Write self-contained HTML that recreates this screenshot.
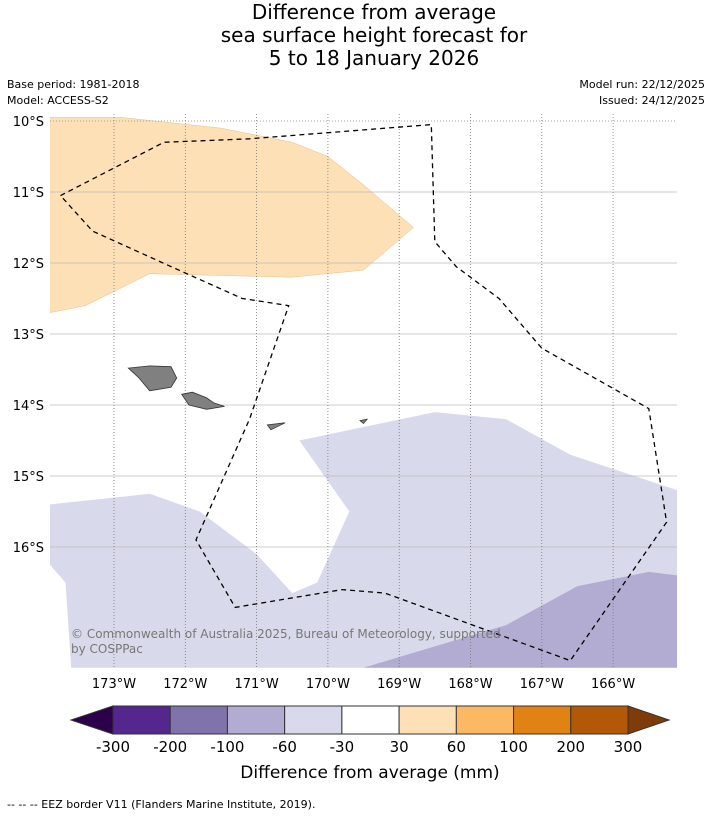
<!DOCTYPE html>
<html><head><meta charset="utf-8">
<style>
body{margin:0;background:#fff;font-family:"DejaVu Sans","Liberation Sans",sans-serif;}
svg{display:block}
</style></head>
<body>
<svg width="713" height="816" viewBox="0 0 713 816" id="chart" font-family="DejaVu Sans, Liberation Sans, sans-serif">
<text x="374" y="19" font-size="20" text-anchor="middle">Difference from average</text>
<text x="374" y="42" font-size="20" text-anchor="middle">sea surface height forecast for</text>
<text x="374" y="65" font-size="20" text-anchor="middle">5 to 18 January 2026</text>
<text x="7" y="88" font-size="11">Base period: 1981-2018</text>
<text x="7" y="104" font-size="11">Model: ACCESS-S2</text>
<text x="705" y="88" font-size="11" text-anchor="end">Model run: 22/12/2025</text>
<text x="705" y="104" font-size="11" text-anchor="end">Issued: 24/12/2025</text>
<g id="map"></g>
<g id="cbar"></g>
<text x="370" y="778" font-size="17" text-anchor="middle">Difference from average (mm)</text>
<text x="7" y="808" font-size="11">--  --  -- EEZ border V11 (Flanders Marine Institute, 2019).</text>
</svg>
<script>
const lonTicks=[-173,-172,-171,-170,-169,-168,-167,-166];
const latTicks=[-10,-11,-12,-13,-14,-15,-16];
const levels=[-300,-200,-100,-60,-30,30,60,100,200,300];
const colors=["#54278f","#8073ac","#b2abd2","#d8daeb","#ffffff","#fee0b6","#fdb863","#e08214","#b35806"];
// shaded regions (lon,lat)
const orangeZone=[[-173.9,-9.95],[-172.9,-9.95],[-171.5,-10.1],[-170.5,-10.3],[-170,-10.5],[-169.5,-10.9],[-168.8,-11.5],[-169.5,-12.1],[-170.5,-12.2],[-172.5,-12.15],[-173.4,-12.6],[-173.9,-12.7]];
const lightPurple=[[-173.9,-15.4],[-172.5,-15.25],[-171.8,-15.5],[-171,-16.1],[-170.5,-16.65],[-170.15,-16.5],[-169.7,-15.5],[-170.4,-14.5],[-168.5,-14.1],[-167.5,-14.2],[-166.6,-14.7],[-165.1,-15.2],[-165.1,-17.7],[-173.6,-17.7],[-173.68,-16.5],[-173.9,-16.25]];
const midPurple=[[-169.5,-17.7],[-167.5,-17.1],[-166.5,-16.55],[-165.5,-16.35],[-165.1,-16.4],[-165.1,-17.7]];
const eez=[[-173.75,-11.05],[-172.3,-10.3],[-171.1,-10.25],[-168.55,-10.05],[-168.5,-11.7],[-168.2,-12.05],[-167.6,-12.5],[-167.0,-13.2],[-165.5,-14.05],[-165.25,-15.65],[-166.6,-17.6],[-169.2,-16.65],[-169.8,-16.6],[-171.3,-16.85],[-171.85,-15.9],[-171.1,-14.2],[-170.55,-12.6],[-171.2,-12.5],[-172.2,-12.05],[-173.3,-11.55],[-173.75,-11.05]];
const islands=[
 [[-172.8,-13.48],[-172.5,-13.45],[-172.2,-13.46],[-172.12,-13.62],[-172.2,-13.75],[-172.5,-13.8],[-172.65,-13.62]],
 [[-172.05,-13.85],[-171.9,-13.82],[-171.7,-13.9],[-171.6,-13.97],[-171.45,-14.02],[-171.7,-14.06],[-171.95,-14.0]],
 [[-170.85,-14.28],[-170.6,-14.25],[-170.8,-14.35]],
 [[-169.55,-14.22],[-169.45,-14.2],[-169.5,-14.26]]
];
const X=l=>114+(l+173)*71.3, Y=l=>121+(-l-10)*71;
const NS="http://www.w3.org/2000/svg";
function mk(p,t,a){const e=document.createElementNS(NS,t);for(const k in a)e.setAttribute(k,a[k]);p.appendChild(e);return e;}
const map=document.getElementById('map');
const pts=a=>a.map(p=>X(p[0]).toFixed(1)+","+Y(p[1]).toFixed(1)).join(" ");
const cp=mk(mk(map,'defs',{}),'clipPath',{id:'mc'});mk(cp,'rect',{x:50,y:114,width:627,height:554});
const g=mk(map,'g',{'clip-path':'url(#mc)'});
let e=mk(g,'polygon',{points:pts(orangeZone),fill:"#fee0b6",stroke:"#e0c090","stroke-width":0.5});


e=mk(g,'polygon',{points:pts(lightPurple),fill:"#d8daeb"});


e=mk(g,'polygon',{points:pts(midPurple),fill:"#b2abd2"});


latTicks.forEach(l=>{const y=Y(l);
 e=mk(g,'line',{x1:50,x2:677,y1:y,y2:y,stroke:l==-10?"#888":"#bbb","stroke-width":0.8,"stroke-dasharray":l==-10?"1,2":"none"});
 
 
 e=mk(map,'text',{x:44,y:y+5,'font-size':13,'text-anchor':'end'});e.textContent=(-l)+"°S";
 
 });
lonTicks.forEach(l=>{const x=X(l);
 e=mk(g,'line',{x1:x,x2:x,y1:114,y2:668,stroke:"#777","stroke-width":0.8,"stroke-dasharray":"1,2"});
 
 
 e=mk(map,'text',{x:x,y:688,'font-size':13,'text-anchor':'middle'});e.textContent=(-l)+"°W";
 
 });
islands.forEach(i=>{e=mk(g,'polygon',{points:pts(i),fill:"#808080",stroke:"#333","stroke-width":0.8});
 
 });
e=mk(g,'polyline',{points:pts(eez),fill:"none",stroke:"#000","stroke-width":1.3,"stroke-dasharray":"5,4"});


e=mk(map,'text',{x:71,y:638,'font-size':12,fill:"#777"});e.textContent="© Commonwealth of Australia 2025, Bureau of Meteorology, supported";


e=mk(map,'text',{x:71,y:653,'font-size':12,fill:"#777"});e.textContent="by COSPPac";


// colorbar
const cb=document.getElementById('cbar');
const x0=113,x1=628,y0=706,h=28,w=(x1-x0)/colors.length;
e=mk(cb,'polygon',{points:`${x0},${y0} ${x0},${y0+h} 71,${y0+h/2}`,fill:"#2d004b",stroke:"#333"});


e=mk(cb,'polygon',{points:`${x1},${y0} ${x1},${y0+h} 669,${y0+h/2}`,fill:"#7f3b08",stroke:"#333"});


colors.forEach((c,i)=>{e=mk(cb,'rect',{x:x0+i*w,y:y0,width:w,height:h,fill:c,stroke:"#333","stroke-width":1});
 
 });
levels.forEach((v,i)=>{e=mk(cb,'text',{x:x0+i*w,y:752,'font-size':15,'text-anchor':'middle'});e.textContent=v;
 
 });
</script>
</body></html>
